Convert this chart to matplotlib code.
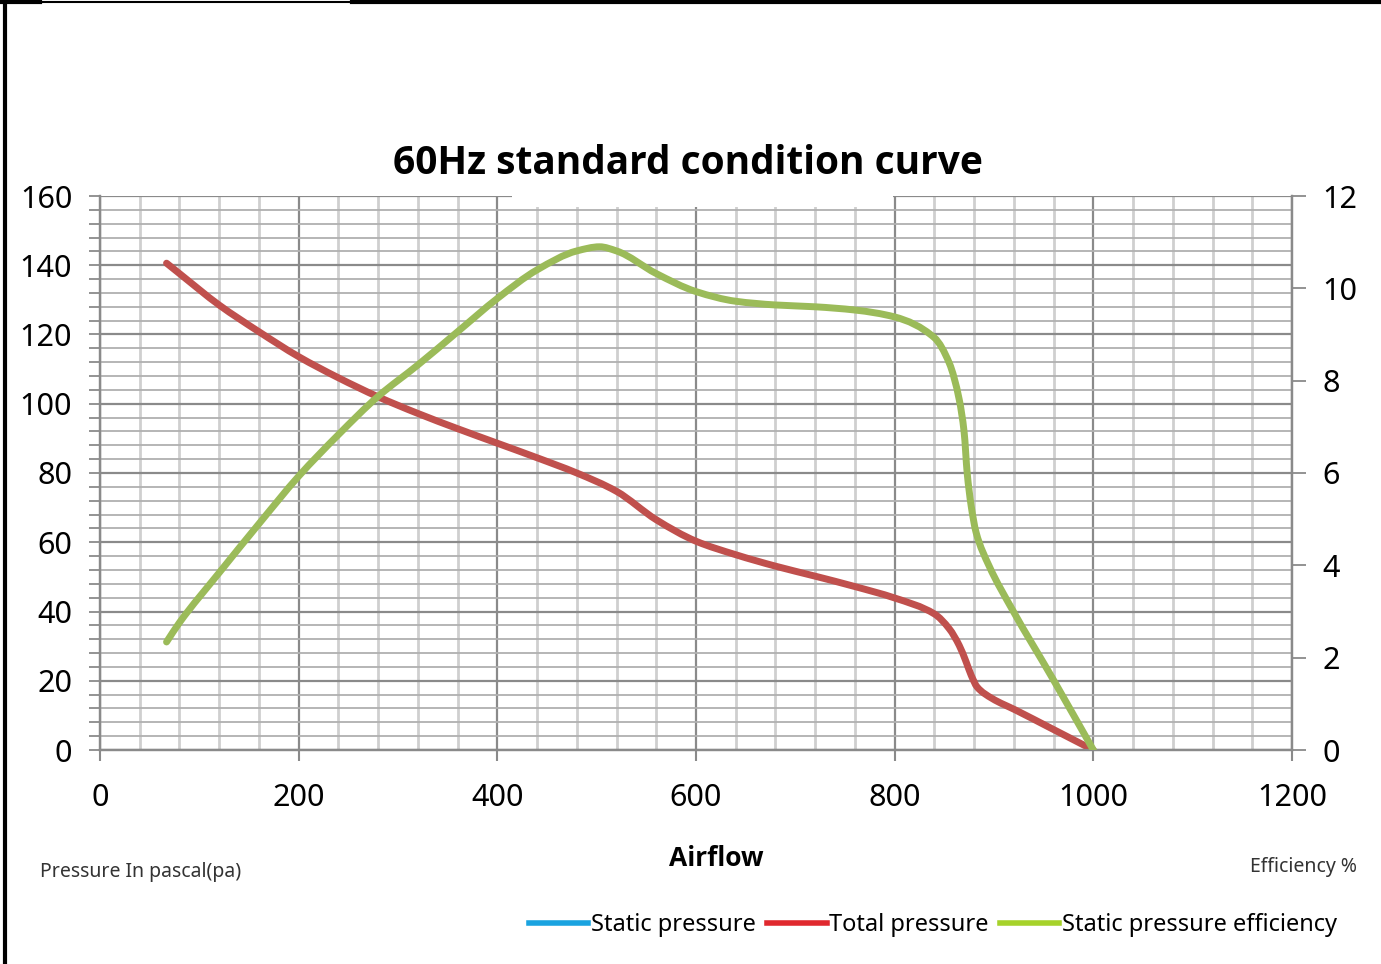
import matplotlib
matplotlib.use("Agg")
import matplotlib.pyplot as plt
from matplotlib.lines import Line2D
from matplotlib.patches import Rectangle, PathPatch
from matplotlib.path import Path
from matplotlib.ticker import MultipleLocator
from matplotlib import font_manager

# airflow values
airflow_total = [67, 80, 120, 160, 200, 240, 280, 320, 360, 400, 440, 480,
                 520, 560, 600, 640, 680, 720, 760, 800, 840, 855, 865, 872,
                 877, 883, 898, 922, 958, 1000]
total_pressure = [140.6, 137.6, 128.5, 120.8, 113.6, 107.5, 102.0, 97.2, 92.8,
                  88.6, 84.4, 80.0, 74.7, 66.5, 60.3, 56.4, 53.1, 50.2, 47.2,
                  43.9, 39.3, 35.0, 30.2, 25.4, 21.6, 18.2, 14.9, 11.5, 6.2,
                  0.0]

airflow_eff = [67, 80, 120, 160, 200, 240, 280, 320, 360, 400, 440, 480, 503,
               520, 560, 600, 640, 680, 720, 760, 800, 840, 855, 865, 870, 873,
               877, 882, 895, 919, 959, 1000]
efficiency = [2.34, 2.76, 3.84, 4.90, 5.93, 6.83, 7.66, 8.34, 9.06, 9.78, 10.40,
              10.81, 10.90, 10.81, 10.32, 9.93, 9.72, 9.64, 9.60, 9.53, 9.38,
              8.93, 8.38, 7.59, 6.87, 6.00, 5.29, 4.71, 3.99, 3.02, 1.55, 0.0]

# no values shown for static pressure, only the legend entry
airflow_static = []
static_pressure = []

x_ticks = [0, 200, 400, 600, 800, 1000, 1200]
left_ticks = [0, 20, 40, 60, 80, 100, 120, 140, 160]
right_ticks = [0, 2, 4, 6, 8, 10, 12]


def smooth_path(xs, ys):
    # smoothed line like the spreadsheet one: monotone cubic pieces as beziers
    n = len(xs)
    h = [xs[i + 1] - xs[i] for i in range(n - 1)]
    d = [(ys[i + 1] - ys[i]) / h[i] for i in range(n - 1)]
    m = [d[0]] + [0.0] * (n - 2) + [d[-1]]
    for i in range(1, n - 1):
        if d[i - 1] * d[i] > 0:
            w1 = 2 * h[i] + h[i - 1]
            w2 = h[i] + 2 * h[i - 1]
            m[i] = (w1 + w2) / (w1 / d[i - 1] + w2 / d[i])
    verts = [(xs[0], ys[0])]
    codes = [Path.MOVETO]
    for i in range(n - 1):
        t = h[i] / 3
        verts += [(xs[i] + t, ys[i] + m[i] * t),
                  (xs[i + 1] - t, ys[i + 1] - m[i + 1] * t),
                  (xs[i + 1], ys[i + 1])]
        codes += [Path.CURVE4] * 3
    return Path(verts, codes)


names = {f.name for f in font_manager.fontManager.ttflist}
bold_font = ["Open Sans", "DejaVu Sans"] if "Open Sans" in names else ["DejaVu Sans"]

font = ["Noto Sans", "DejaVu Sans"]
plt.rcParams["font.family"] = font

fig = plt.figure(figsize=(13.81, 9.64), dpi=100)
ax = fig.add_axes([100 / 1381, 1 - 750 / 964, 1192 / 1381, 554 / 964])
ax2 = ax.twinx()

ax.set_xlim(0, 1200)
ax.set_ylim(0, 160)
ax2.set_ylim(0, 12)

# grid: light minor lines, darker majors
ax.xaxis.set_minor_locator(MultipleLocator(40))
ax.yaxis.set_minor_locator(MultipleLocator(4))
ax.set_xticks(x_ticks)
ax.set_yticks(left_ticks)
ax.grid(which="minor", axis="x", color="#cfcfcf", lw=2.0)
ax.grid(which="minor", axis="y", color="#b0b0b0", lw=1.3)
ax.grid(which="major", color="#8a8a8a", lw=1.6)
ax.set_axisbelow(True)

ax.tick_params(axis="x", which="major", length=8, width=1.5, color="#8a8a8a",
               labelsize=22, pad=16)
ax.tick_params(axis="x", which="minor", length=0)
ax.tick_params(axis="y", which="both", length=8, width=1.3, color="#8a8a8a",
               labelsize=22, pad=12)
ax2.set_yticks(right_ticks)
ax2.tick_params(axis="y", length=10, width=1.3, color="#8a8a8a",
                labelsize=22, pad=12)

for a in (ax, ax2):
    for side in a.spines.values():
        side.set_color("#8a8a8a")
        side.set_linewidth(1.6)
    a.spines["top"].set_visible(False)

ax.plot(airflow_static, static_pressure, color="#1a9fde", lw=5,
        label="Static pressure")
ax.add_patch(PathPatch(smooth_path(airflow_total, total_pressure),
                       facecolor="none", edgecolor="#c0504d", lw=5,
                       capstyle="round", zorder=3))
ax2.add_patch(PathPatch(smooth_path(airflow_eff, efficiency),
                        facecolor="none", edgecolor="#9bbb59", lw=5,
                        capstyle="round", zorder=3))

# white patch under the title that hides the top of the grid
fig.add_artist(Rectangle((512 / 1381, 1 - 207 / 964), 381 / 1381, 12 / 964,
                         transform=fig.transFigure, facecolor="white",
                         edgecolor="none", zorder=5))

fig.text(688 / 1381, 1 - 163 / 964, "60Hz standard condition curve",
         ha="center", va="center", fontsize=28, fontweight="bold",
         family=bold_font)
fig.text(716 / 1381, 1 - 858 / 964, "Airflow", ha="center", va="center",
         fontsize=19, fontweight="bold", family=bold_font)
fig.text(40 / 1381, 1 - 872 / 964, "Pressure In pascal(pa)", ha="left",
         va="center", fontsize=14, color="#333333")
fig.text(1357 / 1381, 1 - 867 / 964, "Efficiency %", ha="right",
         va="center", fontsize=14, color="#333333")

handles = [Line2D([], [], color="#1aa3e0", lw=4),
           Line2D([], [], color="#e0282e", lw=4),
           Line2D([], [], color="#a6d22a", lw=4)]
labels = ["Static pressure", "Total pressure", "Static pressure efficiency"]
fig.legend(handles, labels, loc="center", bbox_to_anchor=(933 / 1381, 1 - 925 / 964),
           ncol=3, frameon=False, fontsize=17, handlelength=2.5,
           handletextpad=0.1, columnspacing=0.5, borderpad=0)

# black frame pieces along the left and top edges
fig.add_artist(Line2D([5 / 1381, 5 / 1381], [0, 1], color="black", lw=3,
                      transform=fig.transFigure))
fig.add_artist(Line2D([0, 40 / 1381], [1 - 2 / 964] * 2, color="black", lw=3,
                      transform=fig.transFigure))
fig.add_artist(Line2D([40 / 1381, 352 / 1381], [1 - 2 / 964] * 2, color="black",
                      lw=1.5, transform=fig.transFigure))
fig.add_artist(Line2D([352 / 1381, 1], [1 - 2 / 964] * 2, color="black", lw=3,
                      transform=fig.transFigure))

fig.savefig("out.png", dpi=100)
